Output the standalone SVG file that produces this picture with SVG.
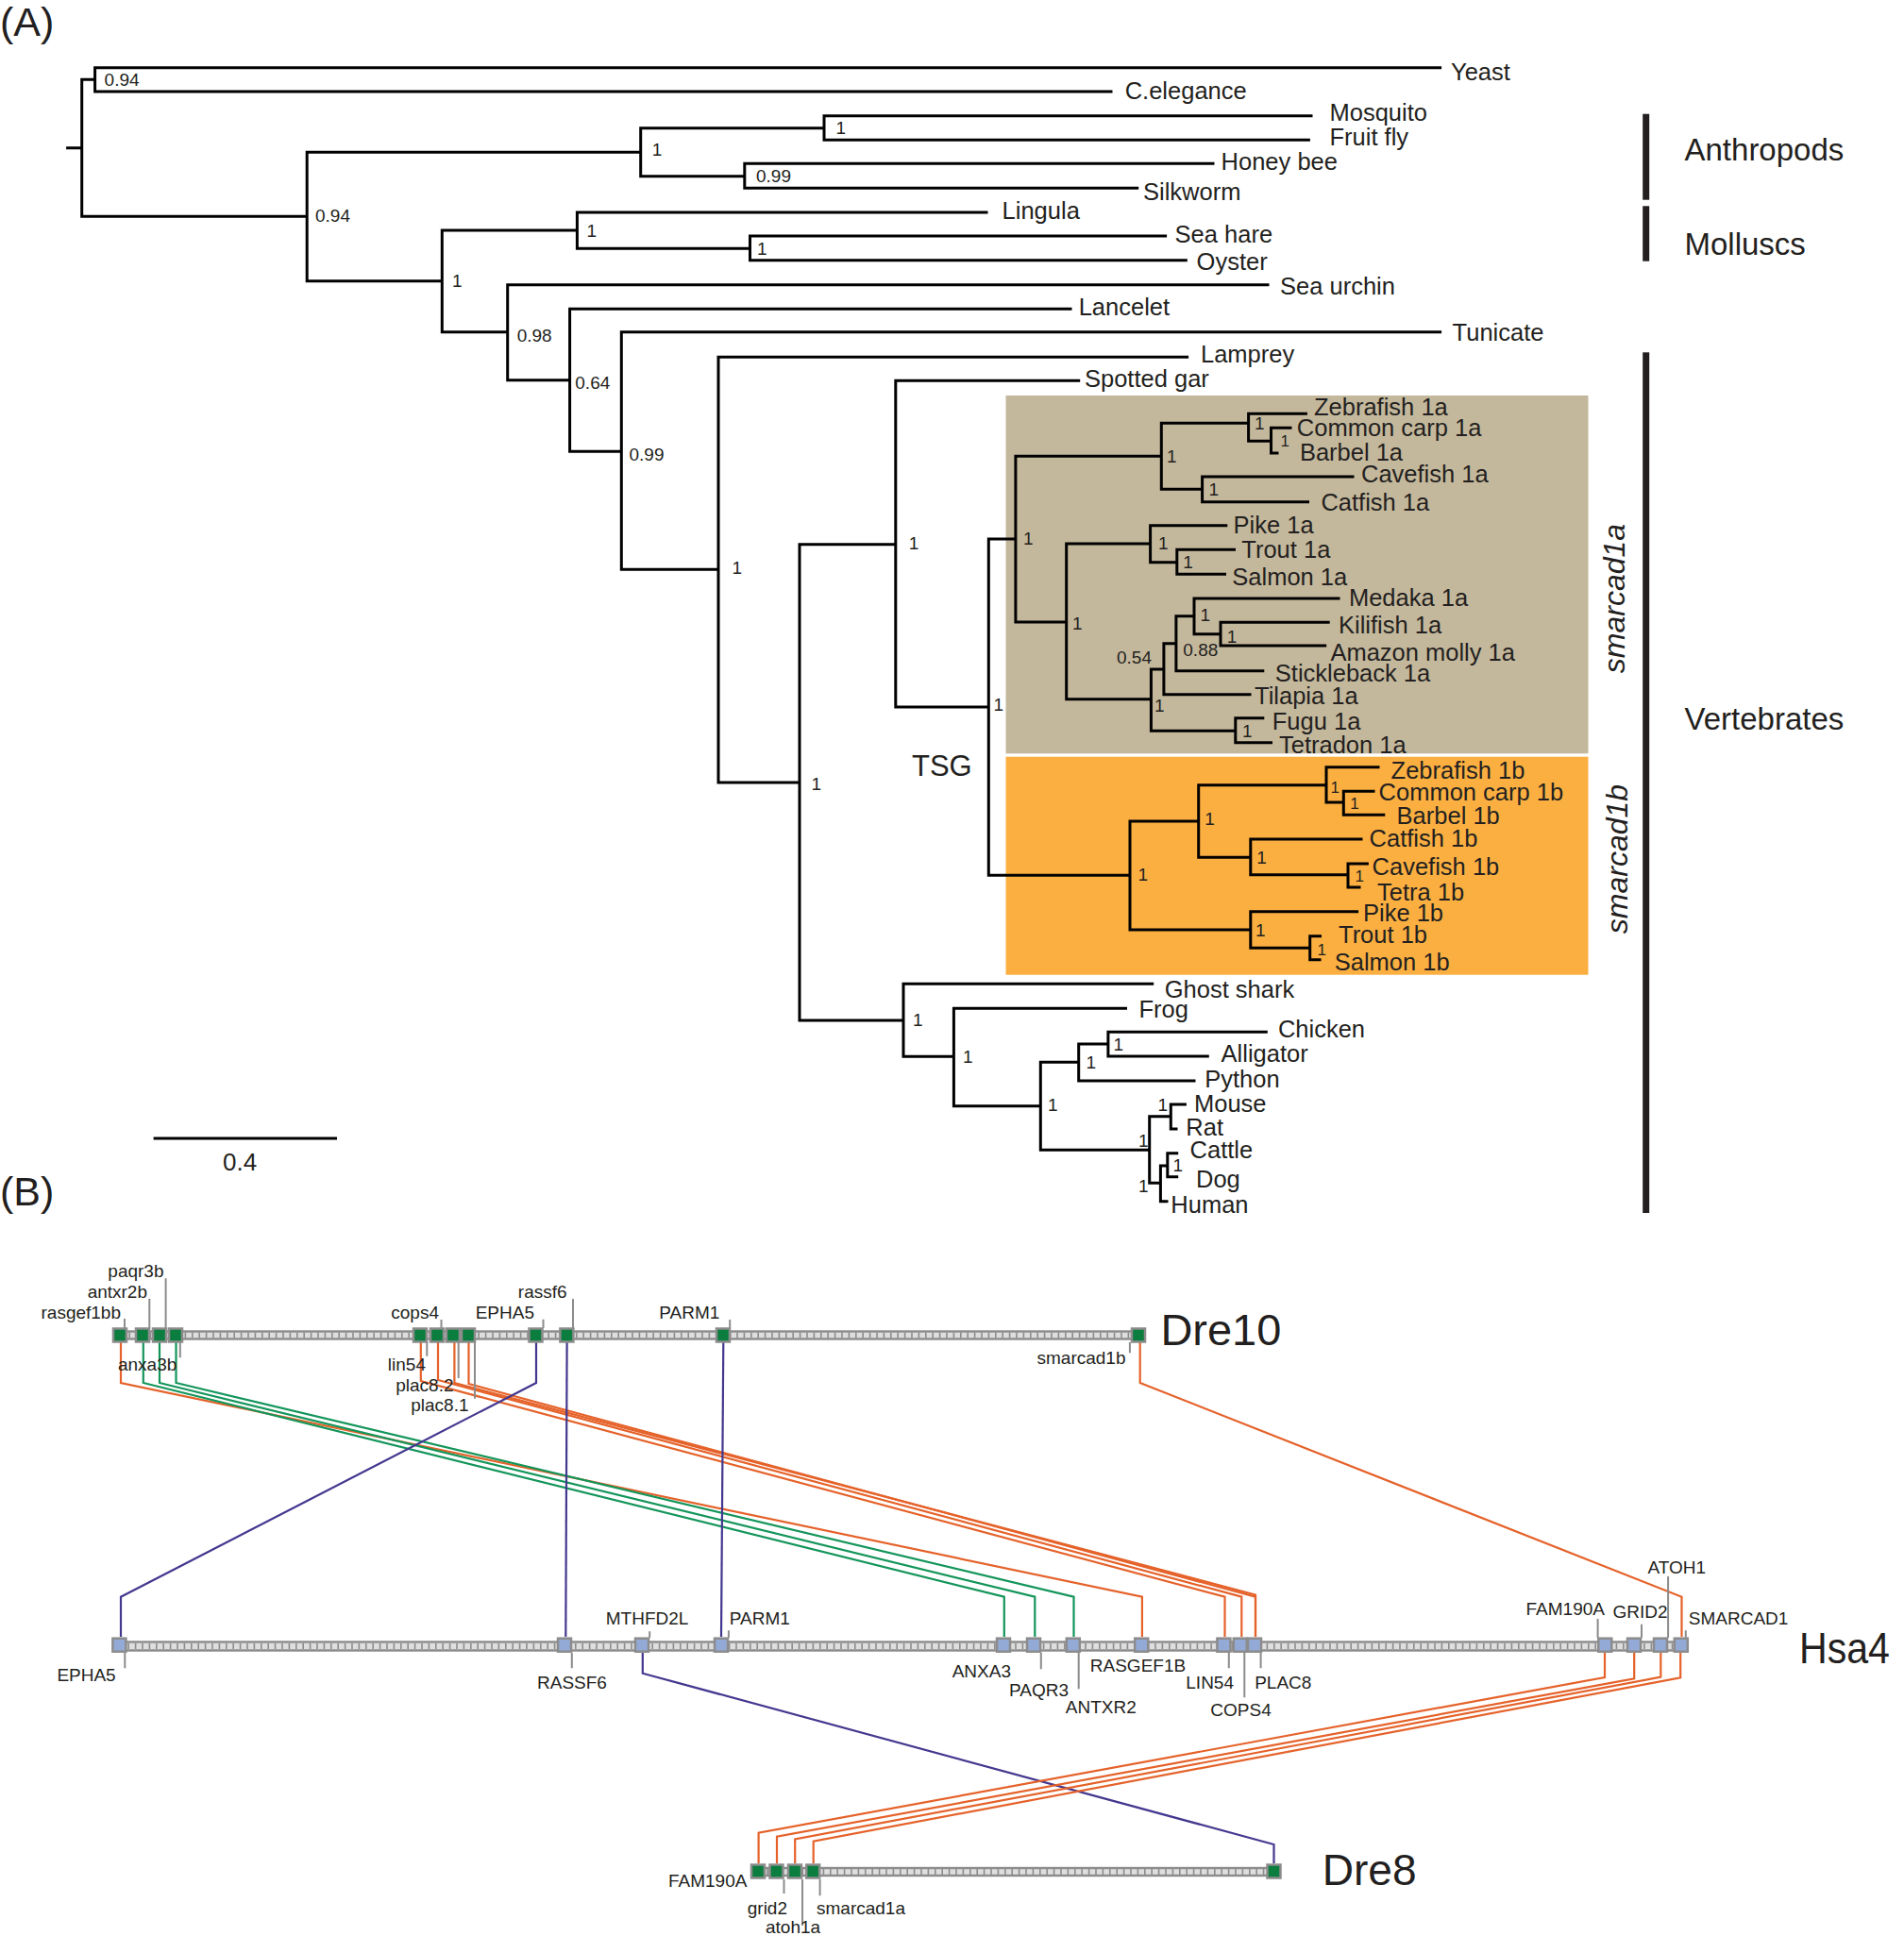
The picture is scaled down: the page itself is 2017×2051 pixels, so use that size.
<svg xmlns="http://www.w3.org/2000/svg" width="2017" height="2051" viewBox="0 0 2017 2051">
<style>
text{font-family:"Liberation Sans",Arial,sans-serif;fill:#231f20}
.leaf{font-size:25.5px}
.bs{font-size:19px}
.bss{font-size:17px}
.grp{font-size:33px}
.gene{font-size:19px}
.chr{font-size:47px}
.panel{font-size:43px}
.tree{fill:none;stroke:#000;stroke-width:3;stroke-linecap:square}
.bar{fill:#dedede;stroke:#8c8c8c;stroke-width:2.4}
.barin{stroke:#8c8c8c;stroke-width:6;stroke-dasharray:1.6 5.8;fill:none}
.gbox{fill:#0b7d3e;stroke:#8c8c8c;stroke-width:2.5}
.bbox{fill:#93aad6;stroke:#8c8c8c;stroke-width:2.5}
.lead{stroke:#8c8c8c;stroke-width:2;fill:none}
.or{fill:none;stroke:#e5622a;stroke-width:2.2}
.gr{fill:none;stroke:#13955a;stroke-width:2.2}
.pu{fill:none;stroke:#43388f;stroke-width:2.2}
</style>
<rect width="2017" height="2051" fill="#fff"/>
<text class="panel" x="0" y="38">(A)</text>
<text class="panel" x="0" y="1277">(B)</text>

<g id="clades">
<rect x="1065.5" y="419" width="617" height="379.3" fill="#c4b89c"/>
<rect x="1065.5" y="801.7" width="617" height="231" fill="#fbaf41"/>
</g>

<g id="tree">
<path class="tree" d="M71.6,156.7H86.7 M86.7,84.3V229.3
M86.7,84.3H100.6 M100.6,71.7V97 M100.6,71.7H1525.6 M100.6,97H1177
M86.7,229.3H325.2 M325.2,161.3V297.7
M325.2,161.3H678.7 M678.7,135.7V186.7
M678.7,135.7H873 M873,122.7V148.3 M873,122.7H1389 M873,148.3H1386.4
M678.7,186.7H788.8 M788.8,173.3V199.3 M788.8,173.3H1285 M788.8,199.3H1204.7
M325.2,297.7H468.3 M468.3,244V351.7
M468.3,244H611.4 M611.4,225V263.3 M611.4,225H1045 M611.4,263.3H794.5 M794.5,250V275.7 M794.5,250H1234.6 M794.5,275.7H1256.3
M468.3,351.7H537.7 M537.7,301.7V402.7 M537.7,301.7H1343
M537.7,402.7H603.6 M603.6,327.3V478.3 M603.6,327.3H1134
M603.6,478.3H658.3 M658.3,351.7V603.3 M658.3,351.7H1525.6
M658.3,603.3H761 M761,378.3V829 M761,378.3H1257.6
M761,829H847 M847,576.7V1081
M847,576.7H948.8 M948.8,403.3V749 M948.8,403.3H1142.7
M948.8,749H1047.3 M1047.3,571V927.3
M1047.3,571H1075.9 M1075.9,483.3V659
M1075.9,483.3H1230.3 M1230.3,448.3V518.3
M1230.3,448.3H1322.6 M1322.6,438.3V467.3 M1322.6,438.3H1383.4 M1322.6,467.3H1346.5 M1346.5,453.3V480 M1346.5,453.3H1367 M1346.5,480H1353
M1230.3,518.3H1273.6 M1273.6,505V531.7 M1273.6,505H1433 M1273.6,531.7H1385.5
M1075.9,659H1129.7 M1129.7,576V740.7
M1129.7,576H1218.6 M1218.6,556.7V595.7 M1218.6,556.7H1298.8 M1218.6,595.7H1246.8 M1246.8,582.3V608.3 M1246.8,582.3H1307.5 M1246.8,608.3H1297.5
M1129.7,740.7H1219.4 M1219.4,709V774.3
M1219.4,709H1232.9 M1232.9,681.7V735.7
M1232.9,681.7H1245.9 M1245.9,652.7V710.7
M1245.9,652.7H1265 M1265,634V671.7 M1265,634H1418 M1265,671.7H1293 M1293,659.3V684 M1293,659.3H1407.2 M1293,684H1403.7
M1245.9,710.7H1337.8
M1232.9,735.7H1324
M1219.4,774.3H1308.8 M1308.8,760.7V786.7 M1308.8,760.7H1337.8 M1308.8,786.7H1346.5
M1047.3,927.3H1197 M1197,870V985
M1197,870H1269.7 M1269.7,831.7V908.3
M1269.7,831.7H1405 M1405,812.7V850 M1405,812.7H1460 M1405,850H1423.3 M1423.3,838.3V863.3 M1423.3,838.3H1455 M1423.3,863.3H1465.8
M1269.7,908.3H1324.8 M1324.8,889V926.7 M1324.8,889H1442 M1324.8,926.7H1428 M1428,915V940 M1428,915H1448.4 M1428,940H1440
M1197,985H1324.8 M1324.8,965.7V1004.3 M1324.8,965.7H1437.6 M1324.8,1004.3H1387.7 M1387.7,991.7V1016.7 M1387.7,991.7H1398.5 M1387.7,1016.7H1398
M847,1081H957 M957,1042.3V1119.3 M957,1042.3H1220.7
M957,1119.3H1010.4 M1010.4,1068.3V1171.7 M1010.4,1068.3H1192.5
M1010.4,1171.7H1102.3 M1102.3,1125.3V1218.3
M1102.3,1125.3H1142.7 M1142.7,1106V1145
M1142.7,1106H1173.9 M1173.9,1093.3V1119 M1173.9,1093.3H1341.3 M1173.9,1119H1279.3
M1142.7,1145H1265
M1102.3,1218.3H1217.7 M1217.7,1182.7V1253.3
M1217.7,1182.7H1240.3 M1240.3,1170V1196 M1240.3,1170H1255.4 M1240.3,1196H1246
M1217.7,1253.3H1229.4 M1229.4,1235V1272.7
M1229.4,1235H1236.8 M1236.8,1221.7V1246.7 M1236.8,1221.7H1246.7 M1236.8,1246.7H1246.7
M1229.4,1272.7H1236"/>
</g>

<g id="leaves">
<text class="leaf" x="1537" y="85">Yeast</text>
<text class="leaf" x="1191.7" y="105">C.elegance</text>
<text class="leaf" x="1408.5" y="128.3">Mosquito</text>
<text class="leaf" x="1408.5" y="154">Fruit fly</text>
<text class="leaf" x="1293.6" y="180">Honey bee</text>
<text class="leaf" x="1211" y="211.7">Silkworm</text>
<text class="leaf" x="1061.6" y="231.7">Lingula</text>
<text class="leaf" x="1244.6" y="257.3">Sea hare</text>
<text class="leaf" x="1267.6" y="286">Oyster</text>
<text class="leaf" x="1356" y="311.7">Sea urchin</text>
<text class="leaf" x="1142.7" y="333.5">Lancelet</text>
<text class="leaf" x="1538.6" y="361">Tunicate</text>
<text class="leaf" x="1272" y="384">Lamprey</text>
<text class="leaf" x="1149" y="409.5">Spotted gar</text>
<text class="leaf" x="1392" y="440">Zebrafish 1a</text>
<text class="leaf" x="1373.8" y="461.7">Common carp 1a</text>
<text class="leaf" x="1376.9" y="488.3">Barbel 1a</text>
<text class="leaf" x="1442" y="510.7">Cavefish 1a</text>
<text class="leaf" x="1399.4" y="540.7">Catfish 1a</text>
<text class="leaf" x="1306.6" y="565">Pike 1a</text>
<text class="leaf" x="1315.3" y="591">Trout 1a</text>
<text class="leaf" x="1305.3" y="620">Salmon 1a</text>
<text class="leaf" x="1428.9" y="642">Medaka 1a</text>
<text class="leaf" x="1418" y="671">Kilifish 1a</text>
<text class="leaf" x="1409.4" y="700">Amazon molly 1a</text>
<text class="leaf" x="1350.8" y="722">Stickleback 1a</text>
<text class="leaf" x="1329" y="746">Tilapia 1a</text>
<text class="leaf" x="1347.8" y="773.3">Fugu 1a</text>
<text class="leaf" x="1355" y="797.5">Tetradon 1a</text>
<text class="leaf" x="1473.6" y="825">Zebrafish 1b</text>
<text class="leaf" x="1460.6" y="848.3">Common carp 1b</text>
<text class="leaf" x="1479.6" y="872.7">Barbel 1b</text>
<text class="leaf" x="1450.6" y="897.3">Catfish 1b</text>
<text class="leaf" x="1453.6" y="926.7">Cavefish 1b</text>
<text class="leaf" x="1459" y="954">Tetra 1b</text>
<text class="leaf" x="1444" y="976">Pike 1b</text>
<text class="leaf" x="1418" y="999.3">Trout 1b</text>
<text class="leaf" x="1413.7" y="1028.3">Salmon 1b</text>
<text class="leaf" x="1233.7" y="1057">Ghost shark</text>
<text class="leaf" x="1206.4" y="1078.3">Frog</text>
<text class="leaf" x="1353.9" y="1098.8">Chicken</text>
<text class="leaf" x="1293.6" y="1125">Alligator</text>
<text class="leaf" x="1276.2" y="1151.5">Python</text>
<text class="leaf" x="1265" y="1178.3">Mouse</text>
<text class="leaf" x="1256.3" y="1203">Rat</text>
<text class="leaf" x="1260.6" y="1227">Cattle</text>
<text class="leaf" x="1267" y="1258.3">Dog</text>
<text class="leaf" x="1240.3" y="1285">Human</text>
</g>

<g id="support">
<text class="bs" x="110.6" y="90.7">0.94</text>
<text class="bs" x="334" y="235">0.94</text>
<text class="bs" x="690.8" y="165">1</text>
<text class="bs" x="885.5" y="141.7">1</text>
<text class="bs" x="801" y="193.3">0.99</text>
<text class="bs" x="479" y="304">1</text>
<text class="bs" x="621.4" y="250.7">1</text>
<text class="bs" x="802" y="270">1</text>
<text class="bs" x="547.7" y="361.7">0.98</text>
<text class="bs" x="609.3" y="411.7">0.64</text>
<text class="bs" x="666.5" y="488.3">0.99</text>
<text class="bs" x="775.4" y="608.3">1</text>
<text class="bs" x="859.5" y="837.3">1</text>
<text class="bs" x="962.7" y="581.7">1</text>
<text class="bs" x="1052.5" y="753.3">1</text>
<text class="bs" x="1084" y="576.7">1</text>
<text class="bs" x="1236" y="490">1</text>
<text class="bs" x="1329" y="455">1</text>
<text class="bss" x="1356.5" y="473.3">1</text>
<text class="bs" x="1280.6" y="524.5">1</text>
<text class="bs" x="1136" y="666.7">1</text>
<text class="bs" x="1227" y="582.3">1</text>
<text class="bs" x="1253.3" y="602.3">1</text>
<text class="bs" x="1183" y="702.7">0.54</text>
<text class="bs" x="1253.3" y="695">0.88</text>
<text class="bs" x="1271.5" y="658.3">1</text>
<text class="bs" x="1299.7" y="680.7">1</text>
<text class="bs" x="1223" y="754">1</text>
<text class="bs" x="1316" y="780.7">1</text>
<text class="bs" x="1205.6" y="933.3">1</text>
<text class="bs" x="1276.2" y="874">1</text>
<text class="bs" x="1331.3" y="915">1</text>
<text class="bs" x="1330" y="991.7">1</text>
<text class="bss" x="1409.4" y="840">1</text>
<text class="bss" x="1430.2" y="856.7">1</text>
<text class="bss" x="1435.4" y="934">1</text>
<text class="bss" x="1395.5" y="1011.7">1</text>
<text class="bs" x="967" y="1086.7">1</text>
<text class="bs" x="1020" y="1126">1</text>
<text class="bs" x="1110" y="1176.7">1</text>
<text class="bs" x="1150.5" y="1131.7">1</text>
<text class="bs" x="1179.5" y="1112.7">1</text>
<text class="bs" x="1226.4" y="1176.7">1</text>
<text class="bs" x="1206" y="1215">1</text>
<text class="bs" x="1206" y="1263">1</text>
<text class="bs" x="1242.4" y="1240.7">1</text>
</g>

<g id="groups">
<rect x="1740.2" y="120.7" width="7" height="91" fill="#231f20"/>
<rect x="1740.2" y="218.3" width="7" height="58.4" fill="#231f20"/>
<rect x="1740.2" y="373.3" width="7" height="911.7" fill="#231f20"/>
<text class="grp" x="1784.5" y="170">Anthropods</text>
<text class="grp" x="1784.5" y="270">Molluscs</text>
<text class="grp" x="1784.5" y="773.3">Vertebrates</text>
<text transform="translate(1721,634) rotate(-90)" text-anchor="middle" font-size="32" font-style="italic">smarcad1a</text>
<text transform="translate(1723.5,910) rotate(-90)" text-anchor="middle" font-size="32" font-style="italic">smarcad1b</text>
<text x="966" y="821.7" font-size="31">TSG</text>
</g>

<g id="scale">
<line x1="162.6" y1="1206" x2="357" y2="1206" stroke="#000" stroke-width="3"/>
<text x="236" y="1240" font-size="26">0.4</text>
</g>

<g id="connectors">
<path class="or" d="M128,1422V1465L1209.9,1691.7V1734"/>
<path class="gr" d="M151.8,1422V1465L1063.8,1691.7V1734"/>
<path class="gr" d="M169,1422V1465L1096.3,1691.7V1734"/>
<path class="gr" d="M186.5,1422V1465L1137.5,1691.7V1734"/>
<path class="or" d="M445.8,1422V1463L1297.5,1691.7V1734"/>
<path class="or" d="M464,1422V1462L1315.3,1691.7V1734"/>
<path class="or" d="M481.4,1422V1465L1330,1689.5V1734"/>
<path class="or" d="M496.5,1422V1466L1330,1691.7V1734"/>
<path class="or" d="M1207.7,1422V1465L1781.5,1691.7V1734"/>
<path class="pu" d="M568,1422V1465L128,1691.7V1734"/>
<path class="pu" d="M600.6,1422L599.3,1734"/>
<path class="pu" d="M766.3,1422L764,1734"/>
<path class="pu" d="M680.8,1751V1772.7L1349.5,1954V1974"/>
<path class="or" d="M1700,1751V1777L803.6,1941.7V1974"/>
<path class="or" d="M1731.2,1751V1778.3L823,1945.7V1974"/>
<path class="or" d="M1759.3,1751V1776.7L842.2,1948.3V1974"/>
<path class="or" d="M1780.2,1751V1777.3L861.7,1950.7V1974"/>
</g>

<g id="chr-Dre10">
<rect class="bar" x="127" y="1410.5" width="1079" height="8"/>
<line class="barin" x1="129" y1="1414.5" x2="1204" y2="1414.5"/>
<text class="chr" x="1229.4" y="1425" textLength="128" lengthAdjust="spacingAndGlyphs">Dre10</text>
</g>
<g id="chr-Hsa4">
<rect class="bar" x="126" y="1739.5" width="1655" height="9"/>
<line class="barin" x1="128" y1="1744" x2="1779" y2="1744"/>
<text class="chr" x="1906" y="1761.7" textLength="96" lengthAdjust="spacingAndGlyphs">Hsa4</text>
</g>
<g id="chr-Dre8">
<rect class="bar" x="803" y="1979" width="546.5" height="8"/>
<line class="barin" x1="805" y1="1983" x2="1347" y2="1983"/>
<text class="chr" x="1400.7" y="1996.7" textLength="100" lengthAdjust="spacingAndGlyphs">Dre8</text>
</g>

<g id="leaders">
<path class="lead" d="M132,1397V1407 M158.3,1375.7V1407 M175.6,1354.3V1407 M190.8,1422V1438.3 M467.5,1398V1407 M452.3,1422V1436.7 M485.7,1422V1460 M503,1422V1481.7 M575.5,1397.7V1407 M607,1376V1407 M773.2,1398V1407 M1196.9,1422V1433.3"/>
<path class="lead" d="M132.3,1751V1767.3 M605.8,1751V1767.3 M688.2,1728.3V1735 M771.9,1727.3V1735 M1102.8,1751V1768.3 M1142.7,1751V1789.3 M1301.8,1751V1767.3 M1318.3,1743V1798.3 M1335.6,1751V1767.3 M1692.6,1715V1735 M1739,1720.7V1735 M1767.1,1670V1735 M1785.8,1727.3V1735"/>
<path class="lead" d="M830.5,1991V2006 M850,1991V2040 M868.6,1991V2008.3"/>
</g>

<g id="genes-Dre10">
<g id="dre10-rasgef1bb"><rect class="gbox" x="120" y="1407.5" width="14" height="14"/><text class="gene" x="128" y="1396.7" text-anchor="end">rasgef1bb</text></g>
<g id="dre10-antxr2b"><rect class="gbox" x="144" y="1407.5" width="14" height="14"/><text class="gene" x="156" y="1375" text-anchor="end">antxr2b</text></g>
<g id="dre10-paqr3b"><rect class="gbox" x="162" y="1407.5" width="14" height="14"/><text class="gene" x="173.5" y="1353.3" text-anchor="end">paqr3b</text></g>
<g id="dre10-anxa3b"><rect class="gbox" x="179" y="1407.5" width="14" height="14"/><text class="gene" x="187.3" y="1451.7" text-anchor="end">anxa3b</text></g>
<g id="dre10-lin54"><rect class="gbox" x="438" y="1407.5" width="14" height="14"/><text class="gene" x="451" y="1451.7" text-anchor="end">lin54</text></g>
<g id="dre10-cops4"><rect class="gbox" x="456" y="1407.5" width="14" height="14"/><text class="gene" x="465" y="1396.7" text-anchor="end">cops4</text></g>
<g id="dre10-plac8.2"><rect class="gbox" x="473" y="1407.5" width="14" height="14"/><text class="gene" x="480.5" y="1474" text-anchor="end">plac8.2</text></g>
<g id="dre10-plac8.1"><rect class="gbox" x="489" y="1407.5" width="14" height="14"/><text class="gene" x="496.5" y="1495" text-anchor="end">plac8.1</text></g>
<g id="dre10-EPHA5"><rect class="gbox" x="560.5" y="1407.5" width="14" height="14"/><text class="gene" x="566" y="1396.7" text-anchor="end">EPHA5</text></g>
<g id="dre10-rassf6"><rect class="gbox" x="593.4" y="1407.5" width="14" height="14"/><text class="gene" x="600.6" y="1375" text-anchor="end">rassf6</text></g>
<g id="dre10-PARM1"><rect class="gbox" x="759" y="1407.5" width="14" height="14"/><text class="gene" x="762.4" y="1396.7" text-anchor="end">PARM1</text></g>
<g id="dre10-smarcad1b"><rect class="gbox" x="1199" y="1407.5" width="14" height="14"/><text class="gene" x="1192.5" y="1445" text-anchor="end">smarcad1b</text></g>
</g>

<g id="genes-Hsa4">
<g id="hsa4-EPHA5"><rect class="bbox" x="119.4" y="1735.7" width="14" height="14"/><text class="gene" x="122.7" y="1780.7" text-anchor="end">EPHA5</text></g>
<g id="hsa4-RASSF6"><rect class="bbox" x="591" y="1735.7" width="14" height="14"/><text class="gene" x="569" y="1789.3">RASSF6</text></g>
<g id="hsa4-MTHFD2L"><rect class="bbox" x="673" y="1735.7" width="14" height="14"/><text class="gene" x="641.8" y="1720.7">MTHFD2L</text></g>
<g id="hsa4-PARM1"><rect class="bbox" x="757" y="1735.7" width="14" height="14"/><text class="gene" x="772.8" y="1720.7">PARM1</text></g>
<g id="hsa4-ANXA3"><rect class="bbox" x="1056" y="1735.7" width="14" height="14"/><text class="gene" x="1071" y="1776.7" text-anchor="end">ANXA3</text></g>
<g id="hsa4-PAQR3"><rect class="bbox" x="1088" y="1735.7" width="14" height="14"/><text class="gene" x="1069" y="1796.7">PAQR3</text></g>
<g id="hsa4-ANTXR2"><rect class="bbox" x="1129.8" y="1735.7" width="14" height="14"/><text class="gene" x="1128.8" y="1815">ANTXR2</text></g>
<g id="hsa4-RASGEF1B"><rect class="bbox" x="1202.2" y="1735.7" width="14" height="14"/><text class="gene" x="1154.8" y="1770.7">RASGEF1B</text></g>
<g id="hsa4-LIN54"><rect class="bbox" x="1289.4" y="1735.7" width="14" height="14"/><text class="gene" x="1256.3" y="1789.3">LIN54</text></g>
<g id="hsa4-COPS4"><rect class="bbox" x="1306.8" y="1735.7" width="14" height="14"/><text class="gene" x="1282.3" y="1818.3">COPS4</text></g>
<g id="hsa4-PLAC8"><rect class="bbox" x="1322" y="1735.7" width="14" height="14"/><text class="gene" x="1329.2" y="1789.3">PLAC8</text></g>
<g id="hsa4-FAM190A"><rect class="bbox" x="1693.3" y="1735.7" width="14" height="14"/><text class="gene" x="1700" y="1711" text-anchor="end">FAM190A</text></g>
<g id="hsa4-GRID2"><rect class="bbox" x="1724" y="1735.7" width="14" height="14"/><text class="gene" x="1708.6" y="1714">GRID2</text></g>
<g id="hsa4-ATOH1"><rect class="bbox" x="1752" y="1735.7" width="14" height="14"/><text class="gene" x="1745.5" y="1667.3">ATOH1</text></g>
<g id="hsa4-SMARCAD1"><rect class="bbox" x="1773.8" y="1735.7" width="14" height="14"/><text class="gene" x="1788.8" y="1720.7">SMARCAD1</text></g>
</g>

<g id="genes-Dre8">
<g id="dre8-FAM190A"><rect class="gbox" x="796" y="1975.5" width="14" height="14"/><text class="gene" x="791.4" y="1999.3" text-anchor="end">FAM190A</text></g>
<g id="dre8-grid2"><rect class="gbox" x="815.5" y="1975.5" width="14" height="14"/><text class="gene" x="834" y="2028.3" text-anchor="end">grid2</text></g>
<g id="dre8-atoh1a"><rect class="gbox" x="835" y="1975.5" width="14" height="14"/><text class="gene" x="811" y="2048.3">atoh1a</text></g>
<g id="dre8-smarcad1a"><rect class="gbox" x="854.2" y="1975.5" width="14" height="14"/><text class="gene" x="865" y="2028.3">smarcad1a</text></g>
<g id="dre8-mthfd2l"><rect class="gbox" x="1342.5" y="1975.5" width="14" height="14"/></g>
</g>
</svg>
